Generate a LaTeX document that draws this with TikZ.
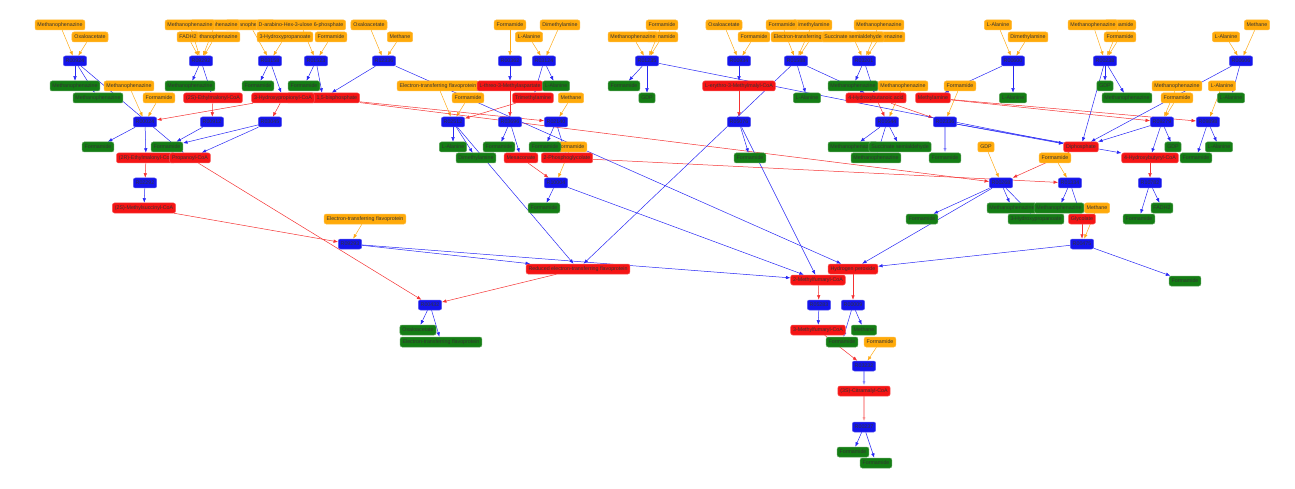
\documentclass[tikz,border=0pt]{standalone}
\usepackage{fontspec}
\setmainfont{Liberation Sans}
\usetikzlibrary{arrows.meta}
\pgfdeclarelayer{edges}
\pgfsetlayers{edges,main}
\definecolor{rxn}{RGB}{20,20,235}
\definecolor{prod}{RGB}{20,125,20}
\definecolor{inter}{RGB}{245,20,20}
\definecolor{subs}{RGB}{255,170,10}
\definecolor{eblue}{RGB}{40,40,245}
\definecolor{ered}{RGB}{245,50,50}
\definecolor{eorange}{RGB}{255,170,20}
\tikzset{
 base/.style={rounded corners=2pt, inner xsep=2.4pt, inner ysep=1pt, minimum height=10pt, font=\fontsize{5.3}{6}\selectfont, text=black!80, line width=0.5pt},
 rx/.style={base, fill=rxn, draw=rxn!70!white, minimum width=23pt},
 pr/.style={base, fill=prod, draw=prod!70!white},
 im/.style={base, fill=inter, draw=inter!70!white},
 su/.style={base, fill=subs, draw=subs!80!white},
 be/.style={draw=eblue, line width=0.5pt, -{Latex[length=4.5pt,width=3.5pt]}},
 rde/.style={draw=ered, line width=0.5pt, -{Latex[length=4.5pt,width=3.5pt]}},
 oe/.style={draw=eorange, line width=0.5pt, -{Latex[length=4.5pt,width=3.5pt]}},
 pale/.style={line width=1.6pt, opacity=0.35}
}
\begin{document}
\begin{tikzpicture}[x=1pt,y=-1pt]
\useasboundingbox (0,0) rectangle (1295,489);
% ---------- substrates (orange) ----------
\node[su] (o1) at (60,25) {Methanophenazine};
\node[su] (o2) at (90,37) {Oxaloacetate};
\node[su] (o5) at (250,25) {Methanophenazine};
\node[su] (o4) at (215,25) {Methanophenazine};
\node[su] (o3) at (190,25) {Methanophenazine};
\node[su] (o6) at (301,25) {D-arabino-Hex-3-ulose 6-phosphate};
\node[su] (o8) at (215,37) {Methanophenazine};
\node[su] (o7) at (188,37) {FADH2};
\node[su] (o9) at (285,37) {3-Hydroxypropanoate};
\node[su] (o10) at (331,37) {Formamide};
\node[su] (o11) at (369,25) {Oxaloacetate};
\node[su] (o12) at (400,37) {Methane};
\node[su] (o13) at (510,25) {Formamide};
\node[su] (o14) at (560,25) {Dimethylamine};
\node[su] (o15) at (529,37) {L-Alanine};
\node[su] (o16) at (662,25) {Formamide};
\node[su] (o18) at (662,37) {Formamide};
\node[su] (o17) at (633,37) {Methanophenazine};
\node[su] (o19) at (724,25) {Oxaloacetate};
\node[su] (o20) at (754,37) {Formamide};
\node[su] (o22) at (812,25) {Dimethylamine};
\node[su] (o21) at (782,25) {Formamide};
\node[su] (o24) at (880,37) {Methanophenazine};
\node[su] (o23) at (812,37) {Electron-transferring flavoprotein};
\node[su] (o25) at (853,37) {Succinate semialdehyde};
\node[su] (o26) at (879,25) {Methanophenazine};
\node[su] (o27) at (998,25) {L-Alanine};
\node[su] (o28) at (1028,37) {Dimethylamine};
\node[su] (o30) at (1120,25) {Formamide};
\node[su] (o29) at (1093,25) {Methanophenazine};
\node[su] (o31) at (1120,37) {Formamide};
\node[su] (o32) at (1257,25) {Methane};
\node[su] (o33) at (1226,37) {L-Alanine};
\node[su] (o34) at (129,86) {Methanophenazine};
\node[su] (o35) at (159,98) {Formamide};
\node[su] (o36) at (438,86) {Electron-transferring flavoprotein};
\node[su] (o37) at (468,98) {Formamide};
\node[su] (o38) at (571,98) {Methane};
\node[su] (o44) at (571,147) {Formamide};
\node[su] (o45) at (986,147) {GDP};
\node[su] (o46) at (1055,158) {Formamide};
\node[su] (o47) at (1097,208) {Methane};
\node[su] (o48) at (365,219) {Electron-transferring flavoprotein};
\node[su] (o49) at (880,342) {Formamide};
% ---------- reactions (blue) ----------
\node[rx] (rA) at (75,61) {R00924};
\node[rx] (rB) at (201,61) {R09292};
\node[rx] (rC) at (270,61) {R03158};
\node[rx] (rD) at (316,61) {R01523};
\node[rx] (rE) at (384,61) {R12336};
\node[rx] (rF) at (510,61) {R00362};
\node[rx] (rG) at (544,61) {R03124};
\node[rx] (rH) at (647,61) {R01235};
\node[rx] (rI) at (739,61) {R00934};
\node[rx] (rJ) at (796,61) {R01588};
\node[rx] (rK) at (864,61) {R03201};
\node[rx] (rL) at (1013,61) {R00600};
\node[rx] (rM) at (1105,61) {R00238};
\node[rx] (rN) at (1241,61) {R00606};
\node[rx] (rO) at (145,122) {R00024};
\node[rx] (rP) at (212,122) {R00912};
\node[rx] (rQ) at (270,122) {R03045};
\node[rx] (rR) at (453,122) {R02512};
\node[rx] (rS) at (510,122) {R03696};
\node[rx] (rT) at (556,122) {R02140};
\node[rx] (rU) at (739,122) {R05076};
\node[rx] (rV) at (887,122) {R01644};
\node[rx] (rW) at (945,122) {R02336};
\node[rx] (rX) at (1162,122) {R09279};
\node[rx] (rY) at (1208,122) {R09898};
\node[rx] (rZ) at (145,183) {R02292};
\node[rx] (ra) at (556,183) {R10004};
\node[rx] (rb) at (1001,183) {R00268};
\node[rx] (rc) at (1070,183) {R01334};
\node[rx] (rd) at (1150,183) {R10782};
\node[rx] (re) at (350,244) {R09293};
\node[rx] (rf) at (1082,244) {R00475};
\node[rx] (rg) at (430,305) {R00432};
\node[rx] (rh) at (819,305) {R05283};
\node[rx] (ri) at (853,305) {R00009};
\node[rx] (rj) at (864,366) {R03232};
\node[rx] (rk) at (864,427) {R00237};
% ---------- intermediates (red) ----------
\node[im] (c1) at (213,98) {(2S)-Ethylmalonyl-CoA};
\node[im] (c3) at (323,98) {D-Ribulose 1,5-bisphosphate};
\node[im] (c2) at (283,98) {3-Hydroxypropionyl-CoA};
\node[im] (c4) at (510,86) {L-threo-3-Methylaspartate};
\node[im] (c5) at (533,98) {Trimethylamine};
\node[im] (c6) at (739,86) {L-erythro-3-Methylmalyl-CoA};
\node[im] (c7) at (876,98) {4-Hydroxybutanoic acid};
\node[im] (c8) at (933,98) {Methylamine};
\node[im] (c9) at (146,158) {(2R)-Ethylmalonyl-CoA};
\node[im] (c10) at (190,158) {Propanoyl-CoA};
\node[im] (c11) at (521,158) {Mesaconate};
\node[im] (c12) at (567,158) {2-Phosphoglycolate};
\node[im] (c13) at (1081,147) {Diphosphate};
\node[im] (c14) at (1150,158) {4-Hydroxybutyryl-CoA};
\node[im] (c15) at (144,208) {(2S)-Methylsuccinyl-CoA};
\node[im] (c16) at (1082,219) {Glycolate};
\node[im] (c17) at (578,269) {Reduced electron-transferring flavoprotein};
\node[im] (c18) at (853,269) {Hydrogen peroxide};
\node[im] (c19) at (818,280) {2-Methylfumaryl-CoA};
\node[im] (c20) at (818,330) {3-Methylfumaryl-CoA};
\node[im] (c21) at (864,391) {(3S)-Citramalyl-CoA};
% ---------- products (green) ----------
\node[pr] (g1) at (75,86) {Methanophenazine};
\node[pr] (g2) at (98,98) {Methanophenazine};
\node[pr] (g3) at (190,86) {Methanophenazine};
\node[pr] (g4) at (258,86) {Formamide};
\node[pr] (g5) at (304,86) {Formamide};
\node[pr] (g6) at (556,86) {L-Alanine};
\node[pr] (g7) at (624,86) {Formamide};
\node[pr] (g8) at (647,98) {GDP};
\node[pr] (g9) at (807,98) {L-Alanine};
\node[pr] (g10) at (853,86) {Methanophenazine};
\node[su] (o39) at (903,86) {Methanophenazine};
\node[su] (o40) at (960,86) {Formamide};
\node[pr] (g11) at (1013,98) {L-Alanine};
\node[pr] (g12) at (1105,86) {GDP};
\node[pr] (g13) at (1127,98) {Methanophenazine};
\node[su] (o41) at (1177,86) {Methanophenazine};
\node[su] (o42) at (1177,98) {Formamide};
\node[su] (o43) at (1222,86) {L-Alanine};
\node[pr] (g14) at (1231,98) {L-Alanine};
\node[pr] (g15) at (98,147) {Formamide};
\node[pr] (g16) at (167,147) {Formamide};
\node[pr] (g17) at (453,147) {L-Alanine};
\node[pr] (g18) at (476,158) {Dimethylamine};
\node[pr] (g19) at (499,147) {Formamide};
\node[pr] (g20) at (545,147) {Formamide};
\node[pr] (g21) at (750,158) {Formamide};
\node[pr] (g22) at (853,147) {Methanophenazine};
\node[pr] (g23) at (900,147) {Succinate semialdehyde};
\node[pr] (g24) at (876,158) {Methanophenazine};
\node[pr] (g25) at (945,158) {Formamide};
\node[pr] (g26) at (1173,147) {GDP};
\node[pr] (g27) at (1219,147) {L-Alanine};
\node[pr] (g28) at (1196,158) {Formamide};
\node[pr] (g29) at (544,208) {Formamide};
\node[pr] (g30) at (922,219) {Formamide};
\node[pr] (g31) at (1012,208) {Methanophenazine};
\node[pr] (g32) at (1059,208) {Methanophenazine};
\node[pr] (g33) at (1036,219) {3-Hydroxypropanoate};
\node[pr] (g34) at (1139,219) {Formamide};
\node[pr] (g35) at (1162,208) {FADH2};
\node[pr] (g36) at (1185,281) {Formamide};
\node[pr] (g37) at (418,330) {Oxaloacetate};
\node[pr] (g38) at (441,342) {Electron-transferring flavoprotein};
\node[pr] (g39) at (864,330) {Methane};
\node[pr] (g40) at (842,342) {Formamide};
\node[pr] (g41) at (853,452) {Formamide};
\node[pr] (g42) at (876,463) {Formamide};
% ---------- edges ----------
\begin{pgfonlayer}{edges}
\foreach \a/\b in {o1/rA,o2/rA,o3/rB,o4/rB,o7/rB,o8/rB,o5/rC,o9/rC,o6/rD,o10/rD,o11/rE,o12/rE,o13/rF,o15/rG,o14/rG,o16/rH,o17/rH,o18/rH,o19/rI,o20/rI,o21/rJ,o22/rJ,o23/rJ,o25/rK,o26/rK,o24/rK,o27/rL,o28/rL,o29/rM,o30/rM,o31/rM,o32/rN,o33/rN,o34/rO,o35/rO,o36/rR,o37/rR,o38/rT,o39/rV,o40/rW,o41/rX,o42/rX,o43/rY,o44/ra,o45/rb,o46/rc,o47/rf,o48/re,o49/rj}
  \draw[oe] (\a) -- (\b);
\foreach \a/\b in {c1/rP,c2/rO,c2/rQ,c3/rT,c3/rb,c4/rS,c5/rR,c6/rU,c7/rV,c7/rW,c8/rX,c8/rY,c9/rZ,c10/rg,c11/ra,c12/rc,c13/rb,c14/rd,c15/re,c16/rf,c17/rg,c18/ri,c19/rh,c20/rj}
  \draw[rde] (\a) -- (\b);
\draw[rde,pale] (c21) -- (rk);
\foreach \a/\b in {rA/g1,rA/g2,rA/c10,rB/g3,rB/c1,rC/g4,rC/c2,rD/g5,rD/c3,rE/c3,rE/c18,rF/c4,rG/g6,rG/c5,rH/g7,rH/g8,rH/c13,rI/c6,rJ/g9,rJ/c17,rJ/c7,rK/g10,rK/c7,rL/g11,rL/c8,rM/g12,rM/g13,rM/c13,rN/g14,rN/c13,rO/g15,rO/c9,rP/g16,rQ/g16,rQ/c10,rR/g17,rR/g18,rR/c17,rS/g19,rS/c11,rT/g20,rT/c12,rU/g21,rU/c19,rV/g22,rV/g23,rV/g24,rW/c13,rW/c14,rX/c14,rX/g26,rX/c13,rY/g28,rY/g27,rZ/c15,ra/g29,ra/c19,rb/g30,rb/g31,rb/g33,rb/c18,rc/g32,rc/c16,rd/g34,rd/g35,re/c17,re/c19,rf/c18,rf/g36,rg/g37,rg/g38,rh/c20,ri/g40,ri/g39,rk/g41,rk/g42}
  \draw[be] (\a) -- (\b);
\draw[be,pale] (rW) -- (g25);
\draw[be,pale] (rj) -- (c21);
\end{pgfonlayer}
\end{tikzpicture}
\end{document}
